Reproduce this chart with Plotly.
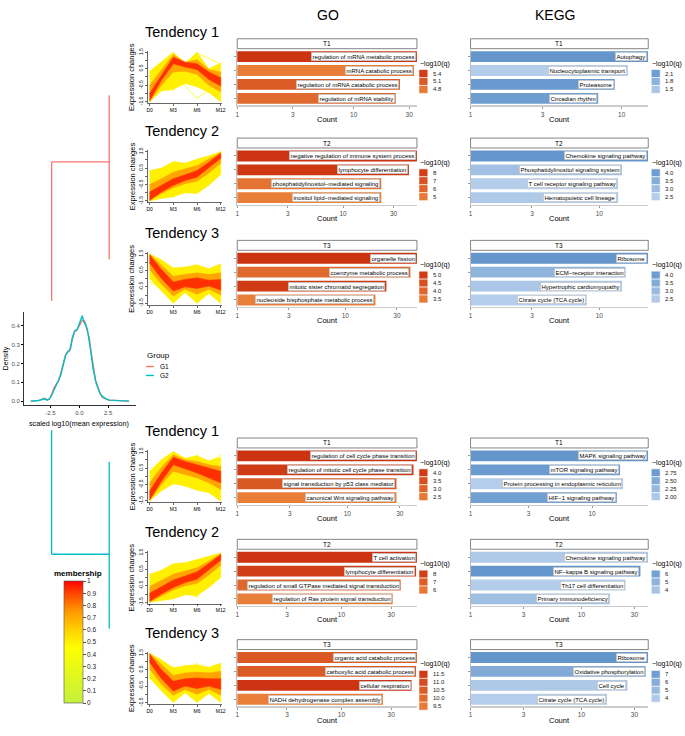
import numpy as np
import plotly.graph_objects as go

W, H = 685, 736
FONT = "Liberation Sans, Arial, sans-serif"

# ---------------- data ----------------
time_labels = ["D0", "M3", "M6", "M12"]
time_pos = [0, 1, 2, 3]
env_pos = [0, 0.5, 1, 1.5, 2, 2.5, 3]

g1_t1_band_memb = [0.5, 0.72, 0.93]
g1_t1_band_up = [[0.35, 0.95, 1.5, 0.8, 1.5, 0.5, 0.85],
                 [-0.5, 0.4, 1.35, 0.9, 1.05, 0.45, 0.3],
                 [-1.0, 0.1, 1.2, 0.9, 0.8, 0.3, -0.05]]
g1_t1_band_low = [[-1.5, -0.85, -0.75, -0.4, -0.6, -0.95, -1.5],
                  [-1.5, -0.5, 0.3, 0.35, 0.15, -0.5, -0.9],
                  [-1.45, -0.2, 0.8, 0.6, 0.45, -0.15, -0.55]]
g1_t1_line_memb = [0.4, 0.4, 0.45, 0.45]
g1_t1_lines = [[0.1, 0.2, -1.3, -0.3], [-0.7, -0.8, 0.9, -1.5],
               [-1.5, 0.3, 1.45, 0.8], [0.25, 1.45, 0.3, 0.6]]

g1_t2_band_memb = [0.5, 0.72, 0.93]
g1_t2_band_up = [[0.35, 0.5, 0.9, 0.8, 1.05, 1.25, 1.5],
                 [-0.5, -0.15, 0.25, 0.45, 0.65, 1.05, 1.45],
                 [-0.95, -0.55, -0.15, 0.1, 0.35, 0.85, 1.4]]
g1_t2_band_low = [[-1.5, -1.35, -1.25, -1.0, -1.05, -0.55, 0.1],
                  [-1.5, -1.05, -0.7, -0.45, -0.3, 0.2, 0.8],
                  [-1.45, -0.95, -0.55, -0.25, -0.05, 0.5, 1.1]]
g1_t2_line_memb = [0.4, 0.4, 0.45]
g1_t2_lines = [[0.3, -1.3, 0.9, 0.4], [-1.4, 0.8, -1.0, 1.5], [-0.3, -1.2, -0.2, 1.2]]

g1_t3_band_memb = [0.5, 0.72, 0.93]
g1_t3_band_up = [[1.5, 1.15, 0.65, 0.7, 0.85, 0.6, 0.9],
                 [1.5, 0.85, 0.15, 0.25, 0.35, 0.25, 0.35],
                 [1.45, 0.55, -0.2, -0.05, 0.05, -0.1, -0.05]]
g1_t3_band_low = [[0.0, -0.75, -1.5, -0.85, -1.5, -0.9, -1.5],
                  [0.55, -0.35, -1.05, -0.65, -0.95, -0.65, -1.0],
                  [0.95, 0.0, -0.75, -0.5, -0.6, -0.45, -0.7]]
g1_t3_line_memb = [0.4, 0.4, 0.45]
g1_t3_lines = [[0.4, 0.6, -1.5, 0.9], [1.5, -1.5, 0.8, -0.5], [-0.2, -1.0, 0.2, -1.5]]

g2_t1_band_memb = [0.5, 0.72, 0.93]
g2_t1_band_up = [[0.3, 1.0, 1.5, 1.1, 1.25, 0.95, 1.15],
                 [-0.4, 0.55, 1.3, 1.0, 0.9, 0.7, 0.6],
                 [-0.9, 0.2, 1.15, 0.9, 0.7, 0.5, 0.3]]
g2_t1_band_low = [[-1.5, -0.9, -0.45, -0.6, -0.85, -1.0, -1.5],
                  [-1.5, -0.5, 0.3, 0.1, -0.1, -0.4, -0.8],
                  [-1.45, -0.3, 0.7, 0.45, 0.2, -0.1, -0.4]]
g2_t1_line_memb = [0.4, 0.4, 0.45]
g2_t1_lines = [[0.2, 0.1, 1.3, -0.6], [-1.3, 1.5, -0.8, 0.4], [-0.4, -0.5, 0.4, 1.3]]

g2_t2_band_memb = [0.5, 0.72, 0.93]
g2_t2_band_up = [[0.2, 0.45, 0.85, 0.9, 1.1, 1.3, 1.5],
                 [-0.55, -0.2, 0.2, 0.4, 0.6, 1.0, 1.45],
                 [-0.95, -0.55, -0.15, 0.1, 0.35, 0.85, 1.4]]
g2_t2_band_low = [[-1.5, -1.4, -1.3, -1.05, -1.1, -0.6, 0.0],
                  [-1.5, -1.1, -0.75, -0.5, -0.35, 0.15, 0.75],
                  [-1.45, -1.0, -0.6, -0.3, -0.1, 0.45, 1.05]]
g2_t2_line_memb = [0.4, 0.4, 0.45]
g2_t2_lines = [[0.2, -1.2, 0.6, 0.3], [-1.5, 0.7, -0.7, 1.5], [0.1, -0.6, -1.2, 1.1]]

g2_t3_band_memb = [0.5, 0.72, 0.93]
g2_t3_band_up = [[1.5, 1.1, 0.6, 0.75, 0.8, 0.65, 0.9],
                 [1.5, 0.8, 0.15, 0.3, 0.35, 0.3, 0.4],
                 [1.45, 0.5, -0.2, -0.05, 0.0, -0.05, -0.05]]
g2_t3_band_low = [[0.0, -0.8, -1.5, -0.9, -1.5, -0.95, -1.5],
                  [0.55, -0.4, -1.05, -0.7, -1.0, -0.7, -1.05],
                  [0.95, -0.05, -0.8, -0.5, -0.65, -0.5, -0.7]]
g2_t3_line_memb = [0.4, 0.45]
g2_t3_lines = [[0.3, 0.7, -1.4, 0.8], [1.4, -1.5, 0.9, -0.6]]

density_x = [-4.2, -3.8, -3.5, -3.2, -3.0, -2.8, -2.6, -2.4, -2.2, -2.0, -1.8, -1.6, -1.4,
             -1.2, -1.0, -0.8, -0.6, -0.4, -0.2, 0.0, 0.1, 0.25, 0.4, 0.55, 0.7, 0.85, 1.0,
             1.2, 1.4, 1.6, 1.8, 2.0, 2.3, 2.6, 3.0, 3.4, 3.8, 4.3]
density_g1 = [0.0, 0.001, 0.004, 0.01, 0.015, 0.008, 0.01, 0.035, 0.07, 0.09, 0.105, 0.15,
              0.2, 0.245, 0.26, 0.27, 0.33, 0.37, 0.38, 0.405, 0.42, 0.43, 0.43, 0.41, 0.37,
              0.34, 0.27, 0.18, 0.11, 0.075, 0.04, 0.02, 0.01, 0.004, 0.004, 0.002, 0.0, 0.0]
density_g2 = [0.0, 0.0, 0.003, 0.01, 0.012, 0.005, 0.01, 0.03, 0.06, 0.085, 0.11, 0.14,
              0.19, 0.24, 0.265, 0.275, 0.34, 0.375, 0.38, 0.41, 0.43, 0.455, 0.42, 0.405,
              0.38, 0.33, 0.26, 0.17, 0.11, 0.07, 0.04, 0.025, 0.012, 0.005, 0.003, 0.002,
              0.0, 0.0]

go_g1_t1_terms = ["regulation of mRNA metabolic process", "mRNA catabolic process",
                  "regulation of mRNA catabolic process", "regulation of mRNA stability"]
go_g1_t1_count = [35, 33, 25, 23]
go_g1_t1_q = [5.5, 4.75, 5.1, 4.95]
go_g1_t2_terms = ["negative regulation of immune system process", "lymphocyte differentiation",
                  "phosphatidylinositol−mediated signaling", "inositol lipid−mediated signaling"]
go_g1_t2_count = [50, 42, 23, 23]
go_g1_t2_q = [8.6, 8.3, 5.3, 4.8]
go_g1_t3_terms = ["organelle fission", "coenzyme metabolic process",
                  "mitotic sister chromatid segregation", "nucleoside bisphosphate metabolic process"]
go_g1_t3_count = [46, 40, 24, 19]
go_g1_t3_q = [5.2, 3.9, 5.0, 3.4]
go_g2_t1_terms = ["regulation of cell cycle phase transition",
                  "regulation of mitotic cell cycle phase transition",
                  "signal transduction by p53 class mediator", "canonical Wnt signaling pathway"]
go_g2_t1_count = [43, 40, 28, 28]
go_g2_t1_q = [4.2, 4.0, 3.3, 2.4]
go_g2_t2_terms = ["T cell activation", "lymphocyte differentiation",
                  "regulation of small GTPase mediated signal transduction",
                  "regulation of Ras protein signal transduction"]
go_g2_t2_count = [53, 52, 37, 31]
go_g2_t2_q = [8.5, 8.1, 6.6, 5.8]
go_g2_t3_terms = ["organic acid catabolic process", "carboxylic acid catabolic process",
                  "cellular respiration", "NADH dehydrogenase complex assembly"]
go_g2_t3_count = [53, 52, 47, 25]
go_g2_t3_q = [10.6, 10.5, 11.8, 9.4]

kegg_g1_t1_terms = ["Autophagy", "Nucleocytoplasmic transport", "Proteasome", "Circadian rhythm"]
kegg_g1_t1_count = [15, 11, 9, 7]
kegg_g1_t1_q = [2.2, 1.4, 2.15, 2.1]
kegg_g1_t2_terms = ["Chemokine signaling pathway", "Phosphatidylinositol signaling system",
                    "T cell receptor signaling pathway", "Hematopoietic cell lineage"]
kegg_g1_t2_count = [24, 15, 14, 14]
kegg_g1_t2_q = [4.2, 2.9, 2.5, 2.6]
kegg_g1_t3_terms = ["Ribosome", "ECM−receptor interaction", "Hypertrophic cardiomyopathy",
                    "Citrate cycle (TCA cycle)"]
kegg_g1_t3_count = [24, 16, 15, 8]
kegg_g1_t3_q = [4.2, 3.2, 2.6, 2.4]
kegg_g2_t1_terms = ["MAPK signaling pathway", "mTOR signaling pathway",
                    "Protein processing in endoplasmic reticulum", "HIF−1 signaling pathway"]
kegg_g2_t1_count = [29, 17, 18, 16]
kegg_g2_t1_q = [2.85, 2.75, 1.9, 2.7]
kegg_g2_t2_terms = ["Chemokine signaling pathway", "NF−kappa B signaling pathway",
                    "Th17 cell differentiation", "Primary immunodeficiency"]
kegg_g2_t2_count = [40, 34, 25, 18]
kegg_g2_t2_q = [3.7, 6.6, 3.5, 4.3]
kegg_g2_t3_terms = ["Ribosome", "Oxidative phosphorylation", "Cell cycle",
                    "Citrate cycle (TCA cycle)"]
kegg_g2_t3_count = [40, 38, 26, 17]
kegg_g2_t3_q = [7.6, 6.2, 4.0, 3.7]

go_breaks = [[5.4, 5.1, 4.8], [8, 7, 6, 5], [5.0, 4.5, 4.0, 3.5],
             [4.0, 3.5, 3.0, 2.5], [8, 7, 6], [11.5, 11.0, 10.5, 10.0, 9.5]]
kegg_breaks = [[2.1, 1.8, 1.5], [4.0, 3.5, 3.0, 2.5], [4.0, 3.5, 3.0, 2.5],
               [2.75, 2.50, 2.25, 2.00], [6, 5, 4], [7, 6, 5, 4]]
go_break_labels = [["5.4", "5.1", "4.8"], ["8", "7", "6", "5"], ["5.0", "4.5", "4.0", "3.5"],
                   ["4.0", "3.5", "3.0", "2.5"], ["8", "7", "6"],
                   ["11.5", "11.0", "10.5", "10.0", "9.5"]]
kegg_break_labels = [["2.1", "1.8", "1.5"], ["4.0", "3.5", "3.0", "2.5"],
                     ["4.0", "3.5", "3.0", "2.5"], ["2.75", "2.50", "2.25", "2.00"],
                     ["6", "5", "4"], ["7", "6", "5", "4"]]
membership_ticks = [0, 0.1, 0.2, 0.3, 0.4, 0.5, 0.6, 0.7, 0.8, 0.9, 1]

# ---------------- styling helpers ----------------
MEM_SCALE = [[0.0, "#C4F03C"], [0.45, "#FFFF00"], [0.6, "#FFD000"], [0.75, "#FF9900"],
             [0.9, "#FF4500"], [1.0, "#FF0000"]]
GO_LOW, GO_HIGH = "#E87E38", "#CC3311"
KEGG_LOW, KEGG_HIGH = "#B4CDEA", "#6496CC"
C_G1, C_G2 = "#F8766D", "#00BFC4"


def h2r(h):
    h = h.lstrip("#")
    return [int(h[i:i + 2], 16) for i in (0, 2, 4)]


def lerp(c0, c1, t):
    a, b = h2r(c0), h2r(c1)
    t = max(0.0, min(1.0, t))
    return "rgb(%d,%d,%d)" % tuple(round(a[i] + (b[i] - a[i]) * t) for i in range(3))


def scale_col(scale, t):
    for (p0, c0), (p1, c1) in zip(scale[:-1], scale[1:]):
        if t <= p1:
            return lerp(c0, c1, (t - p0) / (p1 - p0))
    return scale[-1][1]


fig = go.Figure()
layout = dict(width=W, height=H, margin=dict(l=0, r=0, t=0, b=0), paper_bgcolor="white",
              plot_bgcolor="white", showlegend=False, font=dict(family=FONT, color="black"))
annotations = []
shapes = []
axis_n = [0]


def new_axes(x0, x1, y0, y1, xa, ya):
    axis_n[0] += 1
    s = "" if axis_n[0] == 1 else str(axis_n[0])
    layout["xaxis" + s] = dict(domain=[x0 / W, x1 / W], anchor="y" + s, fixedrange=True, **xa)
    layout["yaxis" + s] = dict(domain=[1 - y1 / H, 1 - y0 / H], anchor="x" + s, fixedrange=True, **ya)
    return "x" + s, "y" + s


def text(x, y, t, size, anchor="center", color="black", angle=0, bold=False):
    annotations.append(dict(x=x / W, y=1 - y / H, xref="paper", yref="paper",
                            text=("<b>%s</b>" % t) if bold else t,
                            showarrow=False, xanchor=anchor, yanchor="middle", textangle=angle,
                            font=dict(size=size, color=color, family=FONT)))


def rect(x0, y0, x1, y1, fill, line="rgba(0,0,0,0)", lw=0):
    shapes.append(dict(type="rect", xref="paper", yref="paper", x0=x0 / W, x1=x1 / W,
                       y0=1 - y1 / H, y1=1 - y0 / H, fillcolor=fill, line=dict(color=line, width=lw)))


def seg(x0, y0, x1, y1, color, lw=1.3):
    shapes.append(dict(type="line", xref="paper", yref="paper", x0=x0 / W, x1=x1 / W,
                       y0=1 - y0 / H, y1=1 - y1 / H, line=dict(color=color, width=lw)))


# ---------------- layout geometry ----------------
STRIPS = [36, 136, 239, 438, 540, 641]
GO_X = (237, 418)
KEGG_X = (472, 651)
TEN_X = (147, 222)

tendency_data = [
    (g1_t1_band_memb, g1_t1_band_up, g1_t1_band_low, g1_t1_line_memb, g1_t1_lines),
    (g1_t2_band_memb, g1_t2_band_up, g1_t2_band_low, g1_t2_line_memb, g1_t2_lines),
    (g1_t3_band_memb, g1_t3_band_up, g1_t3_band_low, g1_t3_line_memb, g1_t3_lines),
    (g2_t1_band_memb, g2_t1_band_up, g2_t1_band_low, g2_t1_line_memb, g2_t1_lines),
    (g2_t2_band_memb, g2_t2_band_up, g2_t2_band_low, g2_t2_line_memb, g2_t2_lines),
    (g2_t3_band_memb, g2_t3_band_up, g2_t3_band_low, g2_t3_line_memb, g2_t3_lines),
]
go_data = [(go_g1_t1_terms, go_g1_t1_count, go_g1_t1_q), (go_g1_t2_terms, go_g1_t2_count, go_g1_t2_q),
           (go_g1_t3_terms, go_g1_t3_count, go_g1_t3_q), (go_g2_t1_terms, go_g2_t1_count, go_g2_t1_q),
           (go_g2_t2_terms, go_g2_t2_count, go_g2_t2_q), (go_g2_t3_terms, go_g2_t3_count, go_g2_t3_q)]
kegg_data = [(kegg_g1_t1_terms, kegg_g1_t1_count, kegg_g1_t1_q),
             (kegg_g1_t2_terms, kegg_g1_t2_count, kegg_g1_t2_q),
             (kegg_g1_t3_terms, kegg_g1_t3_count, kegg_g1_t3_q),
             (kegg_g2_t1_terms, kegg_g2_t1_count, kegg_g2_t1_q),
             (kegg_g2_t2_terms, kegg_g2_t2_count, kegg_g2_t2_q),
             (kegg_g2_t3_terms, kegg_g2_t3_count, kegg_g2_t3_q)]
row_names = ["T1", "T2", "T3", "T1", "T2", "T3"]
tendency_titles = ["Tendency 1", "Tendency 2", "Tendency 3", "Tendency 1", "Tendency 2", "Tendency 3"]


def tendency_panel(st, title, data):
    bmemb, bup, blow, lmemb, lines = data
    y0, y1 = st + 12, st + 65
    xa = dict(range=[-0.07, 3.07], tickvals=time_pos, ticktext=time_labels, ticks="outside",
              ticklen=2, tickwidth=0.6, tickcolor="black", tickfont=dict(size=5, color="black"),
              showline=True, linecolor="black", linewidth=0.6, showgrid=False, zeroline=False)
    ya = dict(range=[-1.6, 1.6], tickvals=[-1.5, -1, -0.5, 0, 0.5, 1, 1.5],
              ticktext=["-1.5", "", "-0.5", "", "0.5", "", "1.5"], tickangle=-90, ticks="outside",
              ticklen=2, tickwidth=0.6, tickcolor="black", tickfont=dict(size=5, color="black"),
              showline=True, linecolor="black", linewidth=0.6, showgrid=False, zeroline=False)
    xr, yr = new_axes(TEN_X[0], TEN_X[1], y0, y1, xa, ya)
    for m, prof in sorted(zip(lmemb, lines)):
        fig.add_trace(go.Scatter(x=time_pos, y=prof, mode="lines", xaxis=xr, yaxis=yr,
                                 line=dict(color=scale_col(MEM_SCALE, m), width=0.8), hoverinfo="skip"))
    for m, up, lo in zip(bmemb, bup, blow):
        fig.add_trace(go.Scatter(x=env_pos + env_pos[::-1], y=up + lo[::-1], mode="lines",
                                 fill="toself", fillcolor=scale_col(MEM_SCALE, m),
                                 line=dict(color=scale_col(MEM_SCALE, m), width=0.5),
                                 xaxis=xr, yaxis=yr, hoverinfo="skip"))
    text((TEN_X[0] + TEN_X[1]) / 2 - 3, st - 7, title, 14.5)
    text(131, (y0 + y1) / 2, "Expression changes", 7.5, angle=-90)


def bar_panel(xs, st, label, data, low, high, breaks, blabels, legend_x):
    terms, counts, qv = data
    x0, x1 = xs
    y0, y1 = st + 11, st + 67
    cmax = max(counts)
    ticks = [t for t in [1, 3, 10, 30, 100] if t <= cmax]
    xa = dict(type="log", range=[0, np.log10(cmax)], tickvals=ticks, ticktext=[str(t) for t in ticks],
              ticks="outside", ticklen=2, tickcolor="#999999", tickfont=dict(size=6.5, color="#4D4D4D"),
              showline=True, linecolor="#CCCCCC", linewidth=1.5, showgrid=False, zeroline=False)
    n = len(terms)
    ya = dict(range=[n - 0.5, -0.5], tickvals=list(range(n)), showticklabels=False, ticks="outside",
              ticklen=2, tickcolor="#999999", showline=True, linecolor="#BBBBBB", linewidth=1,
              showgrid=False, zeroline=False)
    xr, yr = new_axes(x0, x1, y0, y1, xa, ya)
    qmin, qmax = min(qv), max(qv)
    cols = [lerp(low, high, (q - qmin) / (qmax - qmin)) for q in qv]
    fig.add_trace(go.Bar(x=counts, y=list(range(n)), orientation="h", width=0.78,
                         marker=dict(color=cols, line=dict(width=0)), xaxis=xr, yaxis=yr,
                         hoverinfo="skip"))
    for i, (t, c) in enumerate(zip(terms, counts)):
        annotations.append(dict(x=np.log10(c), y=i, xref=xr, yref=yr, text=t, showarrow=False,
                                xanchor="right", yanchor="middle", xshift=-1, bgcolor="white",
                                bordercolor="#AAAAAA", borderwidth=0.5, borderpad=1,
                                font=dict(size=6, color="black", family=FONT)))
    rect(x0, st, x1, st + 10, "white", "#666666", 0.8)
    text((x0 + x1) / 2, st + 5, label, 6.5)
    text((x0 + x1) / 2, st + 81, "Count", 7.5)
    text(legend_x, st + 25, "−log10(q)", 7, anchor="left")
    for k, (b, bl) in enumerate(zip(breaks, blabels)):
        yy = st + 31 + 8 * k
        rect(legend_x + 1, yy, legend_x + 10, yy + 8, lerp(low, high, (b - qmin) / (qmax - qmin)),
             "white", 0.6)
        text(legend_x + 13, yy + 4, bl, 6, anchor="left", color="#222222")


for r in range(6):
    tendency_panel(STRIPS[r], tendency_titles[r], tendency_data[r])
    bar_panel(GO_X, STRIPS[r], row_names[r], go_data[r], GO_LOW, GO_HIGH, go_breaks[r],
              go_break_labels[r], 419)
    bar_panel(KEGG_X, STRIPS[r], row_names[r], kegg_data[r], KEGG_LOW, KEGG_HIGH, kegg_breaks[r],
              kegg_break_labels[r], 653)

# ---------------- density panel ----------------
dxa = dict(range=[-4.8, 4.9], tickvals=[-2.5, 0, 2.5], ticktext=["-2.5", "0.0", "2.5"], ticks="outside",
           ticklen=2, tickcolor="black", tickfont=dict(size=6, color="#4D4D4D"), showline=True,
           linecolor="black", linewidth=0.8, showgrid=False, zeroline=False)
dya = dict(range=[-0.022, 0.475], tickvals=[0, 0.1, 0.2, 0.3, 0.4],
           ticktext=["0.0", "0.1", "0.2", "0.3", "0.4"], ticks="outside", ticklen=2, tickcolor="black",
           tickfont=dict(size=6, color="#4D4D4D"), showline=True, linecolor="black", linewidth=0.8,
           showgrid=False, zeroline=False)
dx, dy = new_axes(22, 135, 311, 405, dxa, dya)
fig.add_trace(go.Scatter(x=density_x, y=density_g1, mode="lines", line=dict(color=C_G1, width=1.4),
                         xaxis=dx, yaxis=dy, hoverinfo="skip"))
fig.add_trace(go.Scatter(x=density_x, y=density_g2, mode="lines", line=dict(color=C_G2, width=1.4),
                         xaxis=dx, yaxis=dy, hoverinfo="skip"))
text(4, 358, "Density", 7.2, angle=-90)
text(78, 423, "scaled log10(mean expression)", 7.2)

text(144, 355, "Group", 8, anchor="left")
seg(145, 366, 153, 366, C_G1, 1.4)
seg(145, 375, 153, 375, C_G2, 1.4)
text(157, 366, "G1", 6.5, anchor="left")
text(157, 375, "G2", 6.5, anchor="left")

fig.add_trace(go.Scatter(x=[-100, -100], y=[-100, -100], mode="markers", xaxis=dx, yaxis=dy,
                         hoverinfo="skip",
                         marker=dict(size=1, color=[0, 1], cmin=0, cmax=1, colorscale=MEM_SCALE,
                                     showscale=True,
                                     colorbar=dict(x=62 / W, xanchor="left", y=1 - 582 / H, yanchor="top",
                                                   len=122, lenmode="pixels", thickness=19,
                                                   thicknessmode="pixels", outlinewidth=0.6,
                                                   outlinecolor="#555555", xpad=0, ypad=0,
                                                   tickvals=membership_ticks,
                                                   ticktext=[("%g" % v) for v in membership_ticks],
                                                   ticks="outside", ticklen=3, tickcolor="#555555",
                                                   tickfont=dict(size=6.5, color="#222222")))))
text(77, 574, "membership", 8, bold=True)

seg(108, 93, 108, 258, C_G1)
seg(50, 160, 108, 160, C_G1)
seg(50, 160, 50, 300, C_G1)
seg(50, 430, 50, 555, C_G2)
seg(50, 555, 108, 555, C_G2)
seg(108, 462, 108, 630, C_G2)

text(328, 12, "GO", 14)
text(557, 12, "KEGG", 14)

layout["annotations"] = annotations
layout["shapes"] = shapes
fig.update_layout(**layout)
fig.write_html("out.html", config={"displayModeBar": False, "staticPlot": True},
               post_script="document.body.style.margin='0px';document.body.style.overflow='hidden';")
